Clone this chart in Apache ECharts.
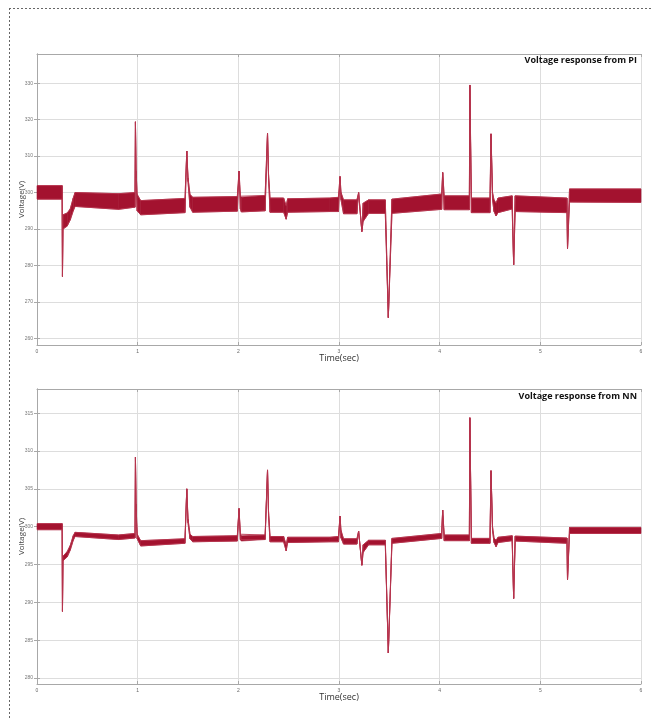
<!DOCTYPE html>
<html><head><meta charset="utf-8">
<script src="https://cdn.jsdelivr.net/npm/echarts@6/dist/echarts.min.js"></script>
<style>html,body{margin:0;padding:0;background:#fff}#c{width:652px;height:719px}</style>
</head><body><div id="c"></div>
<script>
// ---- Data: PI controller response ----
const timePI  = [0.00,0.25,0.253,0.258,0.30,0.33,0.36,0.378,0.81,0.974,0.978,0.984,0.995,1.03,1.47,1.488,1.50,1.52,1.547,1.99,2.007,2.02,2.03,2.266,2.29,2.30,2.315,2.45,2.475,2.49,2.91,2.995,3.01,3.02,3.045,3.178,3.195,3.227,3.24,3.294,3.46,3.49,3.526,4.02,4.03,4.045,4.295,4.30,4.315,4.50,4.51,4.525,4.54,4.56,4.58,4.72,4.735,4.75,5.265,5.27,5.29,6.00];
const upperPI = [301.9,301.9,277.0,293.9,294.4,295.5,298.5,300.0,299.7,300.0,319.4,306.0,299.5,297.8,298.4,311.4,304.0,299.5,298.7,298.9,305.9,299.0,298.7,299.2,316.3,305.0,298.5,298.5,296.4,298.3,298.5,298.7,304.4,300.0,298.0,298.0,300.0,289.3,297.1,298.0,298.0,265.7,298.2,299.6,305.5,299.1,299.1,329.5,298.5,298.5,316.1,300.0,298.0,297.1,298.5,299.1,280.2,299.1,298.5,284.6,301.0,301.0];
const lowerPI = [298.2,298.2,277.0,290.0,290.8,292.5,295.0,296.2,295.4,296.0,319.4,304.0,295.0,293.9,294.5,311.4,303.0,296.0,294.6,294.9,305.9,295.5,294.7,295.0,316.3,304.0,294.6,294.6,292.7,294.6,294.8,294.8,304.4,298.0,294.2,294.2,300.0,289.3,292.1,294.3,294.3,265.7,294.3,295.4,305.5,295.3,295.3,329.5,294.5,294.5,316.1,298.0,294.8,293.6,294.5,295.5,280.2,294.8,294.5,284.6,297.4,297.3];

// ---- Data: NN controller response ----
const timeNN  = [0.00,0.25,0.253,0.258,0.30,0.33,0.36,0.378,0.81,0.974,0.978,0.984,0.995,1.03,1.47,1.488,1.50,1.52,1.547,1.99,2.007,2.02,2.03,2.266,2.29,2.30,2.315,2.45,2.475,2.49,2.91,2.995,3.01,3.02,3.045,3.178,3.195,3.227,3.24,3.294,3.46,3.49,3.526,4.02,4.03,4.045,4.295,4.30,4.315,4.50,4.51,4.525,4.54,4.56,4.58,4.72,4.735,4.75,5.265,5.27,5.29,6.00];
const upperNN = [300.4,300.4,288.8,296.1,296.7,297.5,298.8,299.25,298.9,299.1,309.2,303.0,299.0,298.15,298.4,305.0,301.0,299.0,298.7,298.8,302.4,299.0,298.8,298.9,307.5,302.0,298.7,298.7,297.6,298.6,298.6,298.7,301.4,299.5,298.4,298.4,299.4,294.9,297.6,298.2,298.2,283.3,298.45,299.1,302.2,298.9,298.9,314.4,298.45,298.45,307.4,300.0,298.5,298.2,298.6,298.8,290.5,298.75,298.5,292.95,299.9,299.9];
const lowerNN = [299.6,299.6,288.8,295.5,296.0,296.9,298.2,298.7,298.3,298.5,309.2,302.0,298.4,297.45,297.8,305.0,300.5,298.4,298.0,298.1,302.4,298.3,298.1,298.3,307.5,301.5,298.0,298.0,296.8,297.9,298.0,298.0,301.4,298.5,297.7,297.7,299.4,294.9,296.6,297.6,297.6,283.3,297.8,298.45,302.2,298.15,298.15,314.4,297.8,297.8,307.4,299.5,297.9,297.35,297.9,298.15,290.5,298.1,297.8,292.95,299.1,299.1];

// ---- Ticks / labels ----
const xTicks = [0,1,2,3,4,5,6];
const yTicksPI = [260,270,280,290,300,310,320,330];
const yTicksNN = [280,285,290,295,300,305,310,315];
const titlePI = 'Voltage response from PI';
const titleNN = 'Voltage response from NN';
const xName = 'Time(sec)';
const yName = 'Voltage(V)';

const BAND = '#a3122f';
const EDGE = '#b6324c';
const AX = '#a8a8a8';
const GRIDC = '#dddddd';

const chart = echarts.init(document.getElementById('c'), null, {renderer:'canvas'});

function bandSeries(t, up, lo, xi, yi) {
  const data = [];
  for (let i = 0; i < t.length - 1; i++) data.push([t[i], up[i], lo[i], t[i+1], up[i+1], lo[i+1]]);
  return {
    type: 'custom', xAxisIndex: xi, yAxisIndex: yi, data: data, silent: true, z: 3,
    encode: {x: [0, 3], y: [1, 2, 4, 5]},
    renderItem: function (params, api) {
      const a = api.coord([api.value(0), api.value(1)]);
      const b = api.coord([api.value(3), api.value(4)]);
      const c = api.coord([api.value(3), api.value(5)]);
      const d = api.coord([api.value(0), api.value(2)]);
      return {type: 'polygon', shape: {points: [a, b, c, d]}, style: {fill: BAND, stroke: BAND, lineWidth: 0.6}};
    }
  };
}
function edgeSeries(t, v, xi, yi) {
  return {type: 'line', xAxisIndex: xi, yAxisIndex: yi, showSymbol: false, silent: true, z: 4,
    lineStyle: {color: EDGE, width: 0.9}, data: t.map((x, i) => [x, v[i]])};
}
function xAxes(gi) {
  return [
    {gridIndex: gi, type: 'value', min: xTicks[0], max: xTicks[xTicks.length - 1], interval: 1, position: 'bottom',
      name: xName, nameLocation: 'middle', nameGap: 9, nameMoveOverlap: false,
      nameTextStyle: {fontSize: 9, color: '#333', fontFamily: 'Open Sans'},
      axisLine: {show: true, lineStyle: {color: AX}},
      axisTick: {show: true, inside: true, length: 3, lineStyle: {color: AX}},
      axisLabel: {fontSize: 5, color: '#666', margin: 4},
      splitLine: {show: true, lineStyle: {color: GRIDC, width: 1}}},
    {gridIndex: gi, type: 'value', min: xTicks[0], max: xTicks[xTicks.length - 1], interval: 1, position: 'top',
      axisLine: {show: true, lineStyle: {color: AX}},
      axisTick: {show: true, inside: true, length: 3, lineStyle: {color: AX}},
      axisLabel: {show: false}, splitLine: {show: false}}
  ];
}
function yAxes(gi, mn, mx, ticks) {
  return [
    {gridIndex: gi, type: 'value', min: mn, max: mx, position: 'left',
      name: yName, nameLocation: 'middle', nameGap: 11, nameRotate: 90, nameMoveOverlap: false,
      nameTextStyle: {fontSize: 8, color: '#444', fontFamily: 'Open Sans', padding: [0, 0, 0, 0]},
      axisLine: {show: true, lineStyle: {color: AX}},
      axisTick: {show: true, inside: true, length: 3, customValues: ticks, lineStyle: {color: AX}},
      axisLabel: {fontSize: 5, color: '#777', margin: 4, customValues: ticks},
      splitLine: {show: true, lineStyle: {color: GRIDC, width: 1}}},
    {gridIndex: gi, type: 'value', min: mn, max: mx, position: 'right',
      axisLine: {show: true, lineStyle: {color: AX}},
      axisTick: {show: true, inside: true, length: 3, customValues: ticks, lineStyle: {color: AX}},
      axisLabel: {show: false}, splitLine: {show: false}}
  ];
}

const option = {
  backgroundColor: '#fff',
  animation: false,
  title: [
    {text: titlePI, right: 15, top: 56, padding: 0, textStyle: {fontSize: 9, fontWeight: 'bold', color: '#111', fontFamily: 'Open Sans'}},
    {text: titleNN, right: 15, top: 392, padding: 0, textStyle: {fontSize: 9, fontWeight: 'bold', color: '#111', fontFamily: 'Open Sans'}}
  ],
  grid: [
    {left: 37, right: 11, top: 54, height: 291},
    {left: 37, right: 11, top: 389, height: 295}
  ],
  xAxis: [].concat(xAxes(0), xAxes(1)),
  yAxis: [].concat(yAxes(0, 258.2, 338, yTicksPI), yAxes(1, 279.2, 318.2, yTicksNN)),
  series: [
    bandSeries(timePI, upperPI, lowerPI, 0, 0),
    edgeSeries(timePI, upperPI, 0, 0),
    edgeSeries(timePI, lowerPI, 0, 0),
    bandSeries(timeNN, upperNN, lowerNN, 2, 2),
    edgeSeries(timeNN, upperNN, 2, 2),
    edgeSeries(timeNN, lowerNN, 2, 2)
  ],
  graphic: [
    {type: 'line', silent: true, shape: {x1: 9, y1: 8.5, x2: 652, y2: 8.5}, style: {stroke: '#666', lineWidth: 1, lineDash: [2, 2]}},
    {type: 'line', silent: true, shape: {x1: 9.5, y1: 8, x2: 9.5, y2: 719}, style: {stroke: '#666', lineWidth: 1, lineDash: [2, 2]}}
  ]
};
chart.setOption(option);
</script>
</body></html>
